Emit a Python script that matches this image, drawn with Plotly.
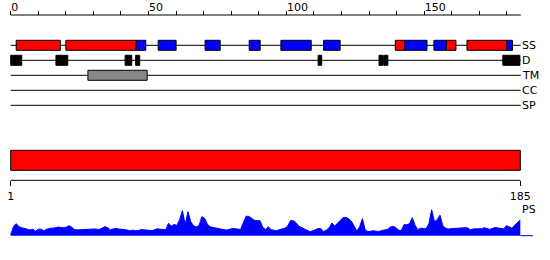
import plotly.graph_objects as go

# ---------------- data ----------------
seq_len = 185
top_major = [0, 50, 100, 150]
top_minor = [10, 20, 30, 40, 60, 70, 80, 90, 110, 120, 130, 140, 160, 170, 180]
bottom_ticks = [1, 185]

track_names = ["SS", "D", "TM", "CC", "SP"]

# secondary structure: H = helix (red), E = strand (blue)
ss_start = [2, 20, 45.5, 53.5, 70.5, 86.5, 98, 113.5, 139.5, 143, 153.5, 158, 165.5, 180]
ss_end   = [18, 45.5, 49, 60, 76, 90.5, 109, 119.5, 143, 151, 158, 161.5, 180, 182]
ss_type  = ["H", "H", "E", "E", "E", "E", "E", "E", "H", "E", "E", "H", "H", "E"]

# disorder
d_start = [0, 16.4, 41.5, 45.3, 111.5, 133.6, 135.3, 178.5]
d_end   = [4, 20.7, 43.9, 46.8, 112.8, 135.0, 136.8, 184.7]

# transmembrane
tm_start = [28]
tm_end   = [49.5]

# domain bar
dom_start = [1]
dom_end   = [185]

# PS profile (per residue)
ps = [1, 9, 12, 9, 8, 7.4, 6.5, 5.7, 6.5, 4.5,
      6.5, 6.5, 4.8, 6.5, 7.3, 7.3, 7.8, 8.6, 8.3, 8,
      8.5, 10, 8.5, 6.2, 5.8, 6, 6.6, 6.5, 6.3, 6.5,
      6.7, 6.5, 6.3, 7.5, 9, 8, 5.8, 6.8, 7.2, 6.8,
      6.6, 6.3, 5.7, 5, 5.5, 5.2, 5, 6.1, 6.1, 5.7,
      5.4, 5, 6.2, 7, 6.5, 6.1, 6, 12.5, 9.5, 11.3,
      10.3, 16, 25, 11, 24, 14, 10, 8.8, 10, 19,
      17.5, 11.5, 9, 8.3, 7.6, 6.8, 6.2, 6, 5.7, 6.5,
      7.1, 7, 6.6, 6.3, 13, 19.5, 19.3, 17, 15.4, 15,
      15, 8.5, 6.2, 9, 6, 5.5, 5, 6, 6.5, 7.5,
      9.5, 15, 15, 13, 9.5, 8.5, 6.8, 5.4, 4.1, 4.8,
      5.8, 7.2, 7, 4.3, 5.5, 8, 12.7, 9.8, 12.4, 15,
      18.2, 18.3, 17, 14.5, 9.5, 4.6, 9, 17, 5.6, 4.1,
      4.5, 5, 4.4, 4.3, 5.2, 5.8, 6.2, 8.5, 9.4, 8.3,
      5.6, 5, 11, 11, 12, 18, 10.5, 6, 7.5, 7.3,
      7, 12, 26, 14, 16, 20.5, 10, 7.6, 6.7, 7,
      7.3, 7.3, 7.3, 7.5, 8, 7.8, 5.9, 6.8, 7, 6.5,
      7, 8, 7.4, 6.3, 7.4, 8.2, 7.7, 7, 6.8, 10,
      9, 7.5, 10.5, 13.5, 15.7]
residues = list(range(1, seq_len + 1))

# ---------------- layout constants ----------------
W, H = 550, 260
FONT = dict(family="DejaVu Sans", size=11, color="black")
track_y = [45.3, 60.3, 75.3, 90.3, 105.3]
box_half = 5
top_axis_y = 15
bottom_axis_y = 180.3
dom_y0, dom_y1 = 150.3, 170.3
ps_label_y = 209

ss_color = {"H": "#ff0000", "E": "#0000ff"}

fig = go.Figure()

# track backbone lines
for ty in track_y:
    fig.add_trace(go.Scatter(x=[0, seq_len], y=[ty, ty], mode="lines",
                             line=dict(color="black", width=1),
                             xaxis="x", yaxis="y", hoverinfo="skip", showlegend=False))

shapes = []
# SS boxes
for s, e, t in zip(ss_start, ss_end, ss_type):
    shapes.append(dict(type="rect", xref="x", yref="y", x0=s, x1=e,
                       y0=track_y[0] - box_half, y1=track_y[0] + box_half,
                       fillcolor=ss_color[t], line=dict(color="black", width=1)))
# disorder boxes
for s, e in zip(d_start, d_end):
    shapes.append(dict(type="rect", xref="x", yref="y", x0=s, x1=e,
                       y0=track_y[1] - box_half, y1=track_y[1] + box_half,
                       fillcolor="black", line=dict(color="black", width=1)))
# TM boxes
for s, e in zip(tm_start, tm_end):
    shapes.append(dict(type="rect", xref="x", yref="y", x0=s, x1=e,
                       y0=track_y[2] - box_half, y1=track_y[2] + box_half,
                       fillcolor="#888888", line=dict(color="black", width=1)))
# top axis line
shapes.append(dict(type="line", xref="x", yref="y", x0=0, x1=seq_len,
                   y0=top_axis_y, y1=top_axis_y, line=dict(color="black", width=1)))
# domain bar
for s, e in zip(dom_start, dom_end):
    shapes.append(dict(type="rect", xref="x2", yref="y", x0=s, x1=e,
                       y0=dom_y0, y1=dom_y1,
                       fillcolor="#ff0000", line=dict(color="black", width=1)))
# bottom axis line
shapes.append(dict(type="line", xref="x2", yref="y", x0=bottom_ticks[0], x1=bottom_ticks[-1],
                   y0=bottom_axis_y, y1=bottom_axis_y, line=dict(color="black", width=1)))
# PS baseline continuation
shapes.append(dict(type="line", xref="x2", yref="y2", x0=seq_len, x1=seq_len + 4.6,
                   y0=0, y1=0, line=dict(color="#0000ff", width=1)))

# PS area
fig.add_trace(go.Scatter(x=residues, y=ps, mode="lines", fill="tozeroy",
                         line=dict(color="#0000ff", width=1), fillcolor="#0000ff",
                         xaxis="x2", yaxis="y2", hoverinfo="skip", showlegend=False))

annotations = []
for name, ty in zip(track_names, track_y):
    annotations.append(dict(text=name, xref="x", yref="y", x=seq_len, y=ty,
                            xanchor="left", yanchor="middle", showarrow=False,
                            font=FONT, xshift=-1))
annotations.append(dict(text="PS", xref="x2", yref="y", x=seq_len, y=ps_label_y,
                        xanchor="left", yanchor="middle", showarrow=False, font=FONT))

# axis ranges mapping residue units to pixels
px_per_top = 2.757
x0_px = 10.7
top_range = [-x0_px / px_per_top, (W - x0_px) / px_per_top]
px_per_bot = (520.3 - 10.7) / (bottom_ticks[-1] - bottom_ticks[0])
bot_range = [bottom_ticks[0] - x0_px / px_per_bot, bottom_ticks[0] + (W - x0_px) / px_per_bot]
ps_baseline_px = 235.7

fig.update_layout(
    width=W, height=H, margin=dict(l=0, r=0, t=0, b=0),
    paper_bgcolor="white", plot_bgcolor="white",
    showlegend=False, hovermode=False,
    shapes=shapes, annotations=annotations,
    xaxis=dict(range=top_range, side="top", anchor="free", position=1 - top_axis_y / H,
               showline=False, showgrid=False, zeroline=False,
               tickmode="array", tickvals=top_major, ticktext=[str(v) for v in top_major],
               ticks="outside", ticklen=4, tickwidth=1, tickcolor="black",
               ticklabelposition="outside right", tickfont=FONT,
               minor=dict(tickmode="array", tickvals=top_minor, ticks="outside", ticklen=4,
                          tickwidth=1, tickcolor="black", showgrid=False)),
    xaxis2=dict(range=bot_range, side="bottom", anchor="free", overlaying="x",
                position=1 - bottom_axis_y / H,
                showline=False, showgrid=False, zeroline=False,
                tickmode="array", tickvals=bottom_ticks, ticktext=[str(v) for v in bottom_ticks],
                ticks="outside", ticklen=5, tickwidth=1, tickcolor="black", tickfont=FONT),
    yaxis=dict(range=[H, 0], domain=[0, 1], visible=False, fixedrange=True),
    yaxis2=dict(range=[-(H - ps_baseline_px), ps_baseline_px], overlaying="y",
                anchor="x2", visible=False, fixedrange=True),
)

fig.write_html("out.html", config={"displayModeBar": False, "staticPlot": True})
